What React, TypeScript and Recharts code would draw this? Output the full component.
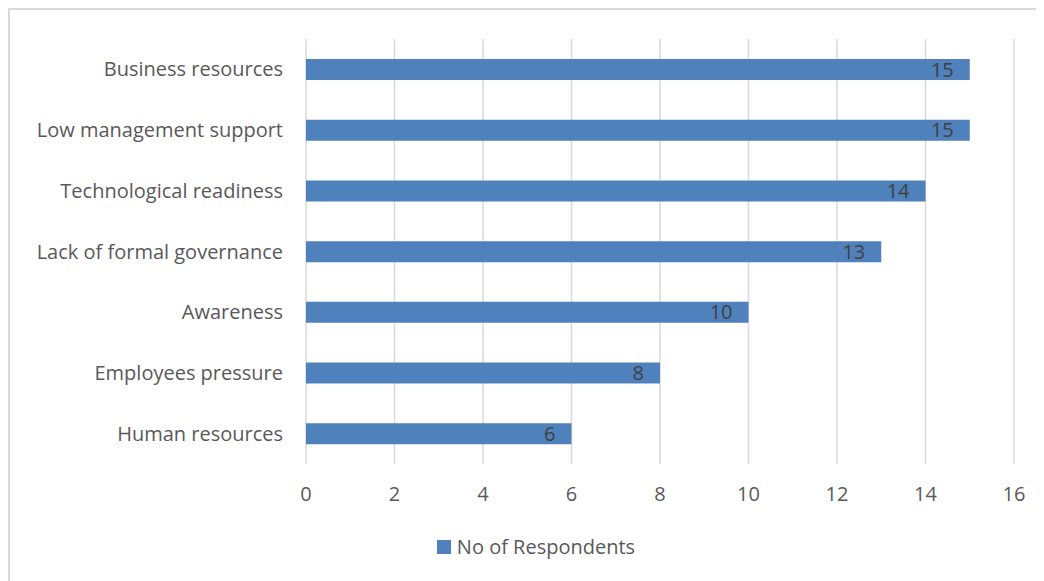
import React from 'react';
import {
  BarChart,
  Bar,
  XAxis,
  YAxis,
  CartesianGrid,
  Legend,
  LabelList,
} from 'recharts';

const categories = [
  'Business resources',
  'Low management support',
  'Technological readiness',
  'Lack of formal governance',
  'Awareness',
  'Employees pressure',
  'Human resources',
];
const respondents = [15, 15, 14, 13, 10, 8, 6];
const xTicks = [0, 2, 4, 6, 8, 10, 12, 14, 16];

const data = categories.map((name, i) => ({ name, value: respondents[i] }));

const FONT = '"Open Sans", Lato, sans-serif';
const TEXT = '#595959';
const SIZE = 20;

const renderLegend = () => (
  <div style={{ display: 'flex', alignItems: 'center', justifyContent: 'center', fontFamily: FONT, fontSize: SIZE, color: TEXT }}>
    <span style={{ width: 14, height: 14, background: '#4F81BD', display: 'inline-block', marginRight: 6 }} />
    <span>No of Respondents</span>
  </div>
);

const App: React.FC = () => {
  return (
    <div
      style={{
        position: 'relative',
        width: 1036,
        height: 573,
        borderLeft: '2px solid #d9d9d9',
        borderTop: '2px solid #d9d9d9',
        boxSizing: 'border-box',
      }}
    >
      <BarChart
        width={1034}
        height={571}
        data={data}
        layout="vertical"
        margin={{ top: 29, right: 30, left: 0, bottom: 50 }}
        style={{ fontFamily: FONT }}
      >
        <CartesianGrid horizontal={false} stroke="#d9d9d9" strokeWidth={1.5} />
        <XAxis
          type="number"
          domain={[0, 16]}
          ticks={xTicks}
          axisLine={false}
          tickLine={false}
          tickMargin={17}
          tick={{ fill: TEXT, fontSize: SIZE }}
          height={40}
        />
        <YAxis
          type="category"
          dataKey="name"
          width={296}
          axisLine={false}
          tickLine={false}
          tickMargin={17}
          tick={{ fill: TEXT, fontSize: SIZE }}
        />
        <Legend
          layout="vertical"
          align="center"
          verticalAlign="bottom"
          content={renderLegend}
          wrapperStyle={{ top: 523, left: 9, width: 1034 }}
        />
        <Bar dataKey="value" fill="#4F81BD" barSize={21} isAnimationActive={false}>
          <LabelList dataKey="value" position="insideRight" offset={16} fill="#404040" fontSize={SIZE} />
        </Bar>
      </BarChart>
    </div>
  );
};

export default App;
